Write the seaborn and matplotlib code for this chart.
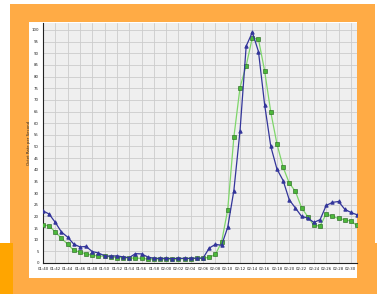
import pandas as pd
import matplotlib
matplotlib.use('Agg')
import matplotlib.pyplot as plt
import matplotlib.patches as mpatches
import seaborn as sns

# Datos (dos series, 52 muestras)
serie_azul = [22.4, 21.0, 17.4, 13.3, 11.1, 8.1, 6.9, 7.1, 4.9, 4.3,
              3.1, 2.9, 3.1, 2.6, 2.3, 4.0, 3.9, 2.6, 2.0, 2.0,
              2.0, 1.9, 2.0, 2.0, 2.0, 2.1, 2.1, 6.4, 8.0, 7.6,
              15.3, 31.1, 56.7, 93.1, 99.0, 90.7, 67.9, 50.0, 40.3, 35.4,
              27.1, 23.6, 20.0, 19.3, 17.4, 18.6, 24.7, 26.0, 26.4, 23.1,
              21.7, 20.7]
serie_verde = [16.4, 15.9, 13.3, 10.6, 8.1, 5.4, 4.7, 3.9, 3.3, 3.0,
               2.9, 2.7, 2.3, 2.3, 2.1, 2.1, 2.0, 1.7, 1.7, 1.7,
               1.7, 1.6, 1.7, 1.9, 1.9, 2.0, 2.1, 2.4, 3.7, 8.9,
               22.9, 54.0, 75.3, 84.7, 96.7, 96.0, 82.4, 64.7, 51.1, 41.1,
               34.3, 30.7, 23.7, 19.9, 16.1, 15.9, 21.1, 20.0, 19.1, 18.6,
               18.0, 16.1]
etiquetas_x = ['01:40', '01:42', '01:44', '01:46', '01:48', '01:50', '01:52',
               '01:54', '01:56', '01:58', '02:00', '02:02', '02:04', '02:06',
               '02:08', '02:10', '02:12', '02:14', '02:16', '02:18', '02:20',
               '02:22', '02:24', '02:26', '02:28', '02:30']
etiquetas_y = list(range(0, 101, 5))

df = pd.DataFrame({'idx': range(len(serie_azul)), 'azul': serie_azul, 'verde': serie_verde})

sns.set_style('white')
fig = plt.figure(figsize=(3.77, 2.94), dpi=100)
fig.patch.set_facecolor('white')

# Marco naranja de fondo
W, H = 377, 294
def rect(x0, y0, x1, y1, color):
    fig.patches.append(mpatches.Rectangle((x0 / W, 1 - y1 / H), (x1 - x0) / W, (y1 - y0) / H,
                                          transform=fig.transFigure, facecolor=color,
                                          edgecolor='none', zorder=-10))
rect(10, 4, 375, 294, '#FFAB45')
rect(0, 243, 377, 294, '#FFAB45')
rect(0, 243, 13, 294, '#FFA500')
rect(29, 22, 357, 278, 'white')

ax = fig.add_axes([43 / W, 1 - 263 / H, (357 - 43) / W, (263 - 23) / H])
ax.set_facecolor('#EFEFEF')

sns.lineplot(data=df, x='idx', y='verde', ax=ax, color='#7ED66A', linewidth=0.9,
             marker='s', markersize=2.8, markerfacecolor='#4CB83A', markeredgecolor='#1F5E18',
             markeredgewidth=0.4, zorder=3)
sns.lineplot(data=df, x='idx', y='azul', ax=ax, color='#33359A', linewidth=0.9,
             marker='^', markersize=2.4, markerfacecolor='#33359A', markeredgecolor='#33359A',
             zorder=4)

ax.set_xlim(0, len(serie_azul) - 1)
ax.set_ylim(0, 103)
ax.set_xticks(range(0, 2 * len(etiquetas_x), 2))
ax.set_xticklabels(etiquetas_x, fontsize=2.8)
ax.set_yticks(etiquetas_y)
ax.set_yticklabels([str(v) for v in etiquetas_y], fontsize=2.8)
ax.tick_params(axis='both', length=1.5, width=0.5, pad=1.5, colors='#222222')
ax.grid(True, color='#CCCCCC', linewidth=0.6)
ax.set_axisbelow(True)
ax.set_xlabel('')
ax.set_ylabel('Octet Rate per Second', fontsize=2.8)
ax.yaxis.set_label_coords(-12 / (357 - 43), 0.5)

for s in ['top', 'right']:
    ax.spines[s].set_visible(False)
for s in ['left', 'bottom']:
    ax.spines[s].set_color('#222222')
    ax.spines[s].set_linewidth(0.8)

fig.savefig('out.png', dpi=100)
